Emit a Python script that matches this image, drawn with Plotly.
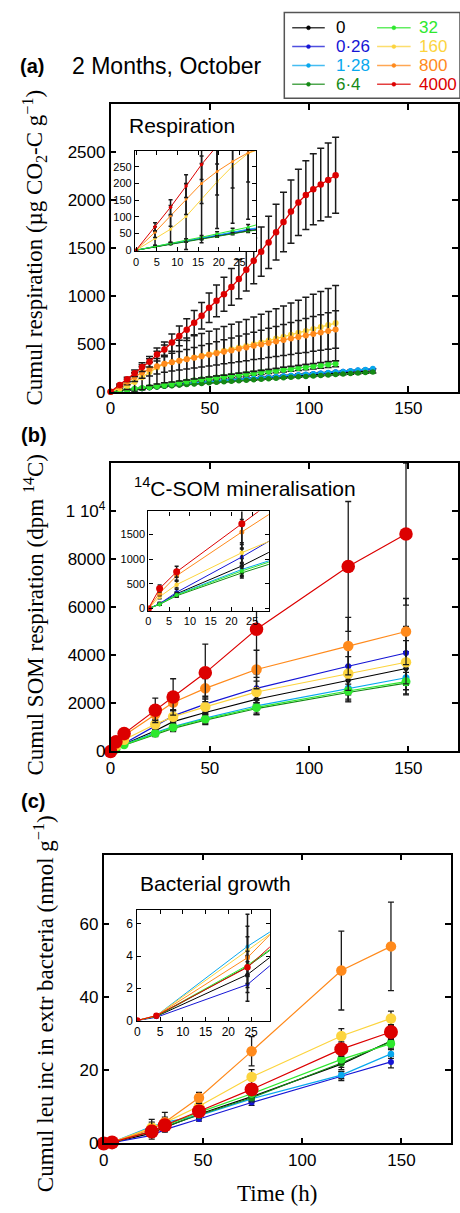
import plotly.graph_objects as go

W, H = 460, 1213

# ---------------- data ----------------
names = ["0", "0·26", "1·28", "6·4", "32", "160", "800", "4000"]
colors = ["#000000", "#1515d5", "#08a8ee", "#158a15", "#2ee82e", "#fcd43e", "#ff8a1c", "#dc0000"]

# (a) cumulative respiration
t_a = [0, 4.6, 8.35, 12.1, 15.85, 19.6, 23.35, 27.1, 30.85, 34.6, 38.35, 42.1, 45.85, 49.6,
       53.35, 57.1, 60.85, 64.6, 68.35, 72.1, 75.85, 79.6, 83.35, 87.1, 90.85, 94.6, 98.35,
       102.1, 105.85, 109.6, 113.35, 117.1, 120.85, 124.6, 128.35, 132.1]
resp_0 = [0, 11, 19, 27, 35, 43, 51, 59, 66, 73, 80, 87, 93, 99, 105, 111, 117, 123, 129, 134,
          140, 145, 151, 156, 162, 167, 172, 178, 183, 188, 193, 198, 203, 208, 213, 218]
resp_026 = [0, 11, 19, 27, 35, 44, 53, 61, 68, 76, 83, 90, 97, 103, 109, 115, 121, 127, 133, 139,
            145, 151, 157, 163, 169, 175, 181, 187, 193, 199, 205, 211, 217, 223, 229, 235]
resp_128 = [0, 12, 20, 28, 36, 45, 54, 63, 70, 78, 85, 92, 98, 104, 110, 116, 122, 128, 134, 140,
            146, 152, 158, 164, 170, 176, 182, 188, 194, 200, 206, 212, 219, 226, 233, 241]
resp_64 = [0, 10, 18, 26, 33, 41, 49, 57, 63, 69, 75, 81, 87, 93, 98, 104, 109, 115, 120, 125,
           130, 135, 140, 145, 150, 155, 160, 165, 170, 175, 180, 185, 190, 195, 200, 205]
resp_32 = [0, 12, 21, 30, 39, 49, 59, 69, 82, 95, 108, 121, 130, 139, 148, 157, 166, 175, 184,
           193, 202, 211, 220, 229, 238, 247, 256, 265, 274, 283, 292]
resp_160 = [0, 35, 63, 101, 152, 205, 252, 290, 307, 324, 341, 358, 375, 392, 409, 426, 443, 460,
            477, 494, 514, 534, 554, 574, 594, 614, 634, 655, 675, 696, 716]
resp_800 = [0, 54, 103, 153, 200, 236, 266, 292, 308, 323, 339, 354, 370, 385, 400, 416, 431, 447,
            462, 478, 493, 509, 524, 540, 555, 571, 586, 602, 617, 633, 648]
resp_4000 = [0, 70, 129, 192, 257, 313, 389, 441, 513, 582, 647, 720, 792, 875, 947, 1016, 1092,
             1174, 1271, 1364, 1460, 1556, 1663, 1770, 1877, 1973, 2049, 2111, 2159, 2207, 2256]
resp_err_0 = [0, 1, 2, 3, 4, 4, 5, 6, 7, 7, 8, 9, 9, 10, 11, 11, 12, 12, 13, 13, 14, 15, 15, 16,
              16, 17, 17, 18, 18, 19, 19, 20, 20, 21, 21, 22]
resp_err_32 = [0, 2, 3, 4, 5, 6, 7, 8, 9, 10, 11, 12, 13, 14, 15, 16, 17, 18, 19, 20, 21, 22, 23,
               24, 25, 26, 27, 28, 29, 30, 31]
resp_err_160 = [0, 20, 40, 99, 130, 140, 171, 197, 205, 212, 218, 225, 232, 239, 246, 253, 260,
                268, 276, 284, 293, 302, 311, 320, 330, 340, 350, 360, 370, 381, 392]
resp_err_800 = [0, 16, 31, 46, 60, 71, 80, 88, 92, 97, 102, 106, 111, 116, 120, 125, 129, 134,
                139, 143, 148, 153, 157, 162, 167, 171, 176, 181, 185, 190, 196]
resp_err_4000 = [0, 12, 22, 34, 45, 55, 68, 77, 90, 102, 113, 126, 139, 153, 166, 178, 191, 205,
                 222, 239, 256, 272, 291, 310, 329, 345, 359, 370, 378, 386, 396]

# (b) cumulative 14C-SOM respiration
t_b = [0, 2.7, 6.8, 22.5, 31.5, 47.7, 73.5, 119.7, 148.8]
som_0 = [0, 95, 300, 860, 1240, 1620, 2171, 2954, 3449]
som_026 = [0, 100, 330, 1042, 1480, 1965, 2625, 3544, 4095]
som_128 = [0, 90, 285, 790, 1030, 1389, 1895, 2625, 3065]
som_64 = [0, 85, 260, 720, 960, 1300, 1780, 2450, 2840]
som_32 = [0, 88, 275, 760, 1005, 1347, 1829, 2513, 2900]
som_160 = [0, 239, 484, 1128, 1442, 1854, 2473, 3243, 3708]
som_800 = [0, 312, 664, 1546, 2033, 2624, 3407, 4382, 4986]
som_4000 = [0, 405, 743, 1712, 2266, 3269, 5082, 7692, 9038]
som_err_0 = [0, 20, 40, 150, 200, 280, 400, 600, 700]
som_err_026 = [0, 30, 60, 180, 230, 330, 600, 900, 1100]
som_err_128 = [0, 20, 40, 120, 150, 200, 300, 450, 500]
som_err_64 = [0, 15, 30, 100, 130, 180, 250, 350, 450]
som_err_32 = [0, 20, 40, 110, 150, 200, 300, 450, 550]
som_err_160 = [0, 40, 70, 200, 250, 320, 450, 700, 900]
som_err_800 = [0, 50, 90, 250, 300, 400, 800, 1195, 1374]
som_err_4000 = [0, 70, 110, 508, 756, 1195, 2000, 2700, 2950]

# (c) cumulative leucine incorporation
t_c = [0, 4.2, 24.2, 30.8, 48, 74.5, 119.7, 144.7]
leu_0 = [0, 0.25, 2.85, 4.4, 8.0, 12.8, 21.7, 28.0]
leu_026 = [0, 0.2, 2.23, 3.8, 6.7, 11.2, 18.4, 22.3]
leu_128 = [0, 0.3, 4.6, 5.8, 7.6, 12.2, 18.7, 24.5]
leu_64 = [0, 0.25, 3.35, 4.6, 7.8, 12.5, 22.0, 27.9]
leu_32 = [0, 0.28, 3.43, 4.8, 8.5, 13.6, 23.0, 27.3]
leu_160 = [0, 0.3, 4.35, 5.7, 10.2, 18.2, 29.4, 34.2]
leu_800 = [0, 0.3, 3.9, 5.8, 12.5, 25.2, 47.3, 53.9]
leu_4000 = [0, 0.3, 3.3, 5.0, 8.8, 14.8, 25.8, 30.5]
leu_err_0 = [0, 0.05, 0.8, 0.8, 0.8, 1.0, 1.5, 1.5]
leu_err_026 = [0, 0.05, 0.5, 0.5, 0.6, 0.8, 1.2, 1.6]
leu_err_128 = [0, 0.05, 0.6, 0.6, 0.7, 0.8, 1.0, 1.2]
leu_err_64 = [0, 0.05, 0.6, 0.6, 0.7, 0.9, 1.2, 1.5]
leu_err_32 = [0, 0.05, 0.6, 0.6, 0.7, 0.9, 1.2, 1.4]
leu_err_160 = [0, 0.1, 1.5, 1.5, 1.0, 2.0, 2.0, 2.0]
leu_err_800 = [0, 0.1, 2.7, 2.7, 1.5, 4.0, 10.8, 12.1]
leu_err_4000 = [0, 0.1, 1.0, 1.0, 1.0, 1.5, 2.0, 2.0]

resp_series = [resp_0, resp_026, resp_128, resp_64, resp_32, resp_160, resp_800, resp_4000]
resp_errs = [resp_err_0, None, None, None, resp_err_32, resp_err_160, resp_err_800, resp_err_4000]
som_series = [som_0, som_026, som_128, som_64, som_32, som_160, som_800, som_4000]
som_errs = [som_err_0, som_err_026, som_err_128, som_err_64, som_err_32, som_err_160, som_err_800, som_err_4000]
leu_series = [leu_0, leu_026, leu_128, leu_64, leu_32, leu_160, leu_800, leu_4000]
leu_errs = [leu_err_0, leu_err_026, leu_err_128, leu_err_64, leu_err_32, leu_err_160, leu_err_800, leu_err_4000]

# ---------------- styling ----------------
SANS = "Liberation Sans, Arial, sans-serif"
SERIF = "Liberation Serif, Times New Roman, serif"
ERR_COL = "#1a1a1a"

size_a = [5.5, 5.5, 5.5, 5.5, 6, 6, 6, 6.5]
size_b = [5, 6, 7, 6, 9, 10.5, 10.5, 13.5]
size_c = [5, 6, 6.5, 7, 8.5, 10.5, 10.5, 14]
size_inset_a = [3, 3, 3, 3, 3, 3, 3, 3.5]
size_inset_b = [4, 4, 4, 4, 4, 4.5, 5, 7]
size_inset_c = [4, 4, 4, 4, 4, 4.5, 5, 6.5]


def px(x):
    return x / W


def py(y):
    return 1 - y / H


fig = go.Figure()


def add_series(tvals, series, errs, sizes, xa, ya, clip, lw=1.3, ethick=1.3, ewidth=3):
    for i in range(len(series)):
        vals = series[i]
        tt = tvals[:len(vals)]
        err = errs[i]
        ed = dict(type="data", array=err, color=ERR_COL, thickness=ethick, width=ewidth,
                  visible=True) if err is not None else dict(visible=False)
        fig.add_trace(go.Scatter(
            x=tt, y=vals, mode="lines+markers", name=names[i],
            line=dict(color=colors[i], width=lw),
            marker=dict(color=colors[i], size=sizes[i], line=dict(width=0)),
            error_y=ed, xaxis=xa, yaxis=ya, cliponaxis=clip, showlegend=False,
        ))


# panel a
add_series(t_a, resp_series, resp_errs, size_a, "x", "y", False, lw=1.3, ethick=1.5, ewidth=3.5)
add_series(t_a, resp_series, resp_errs, size_inset_a, "x2", "y2", True, lw=1.0, ethick=1.5, ewidth=2)
# panel b
add_series(t_b, som_series, som_errs, size_b, "x3", "y3", False, lw=1.2, ethick=1.3, ewidth=3)
add_series(t_b, som_series, som_errs, size_inset_b, "x4", "y4", True, lw=1.0, ethick=1.5, ewidth=2)
# panel c
add_series(t_c, leu_series, leu_errs, size_c, "x5", "y5", False, lw=1.2, ethick=1.3, ewidth=3)
add_series(t_c, leu_series, leu_errs, size_inset_c, "x6", "y6", True, lw=1.0, ethick=1.5, ewidth=2)


def main_ax(dom, rng, tickvals, anchor, ticktext=None):
    d = dict(domain=dom, range=rng, showline=True, linecolor="black", linewidth=1.5,
             mirror="ticks", ticks="inside", ticklen=6, tickwidth=1.5, tickcolor="black",
             tickvals=tickvals, showgrid=False, zeroline=False, anchor=anchor,
             tickfont=dict(family=SANS, size=17, color="black"))
    if ticktext is not None:
        d["ticktext"] = ticktext
    return d


def inset_ax(dom, rng, tickvals, anchor, fsize):
    return dict(domain=dom, range=rng, showline=True, linecolor="black", linewidth=1.2,
                mirror="ticks", ticks="inside", ticklen=4, tickwidth=1, tickcolor="black",
                tickvals=tickvals, showgrid=False, zeroline=False, anchor=anchor,
                tickfont=dict(family=SANS, size=fsize, color="black"))


xt_main = [0, 50, 100, 150]
xt_in = [0, 5, 10, 15, 20, 25]

fig.update_layout(
    xaxis=main_ax([px(107), px(459)], [0, 175], xt_main, "y"),
    yaxis=main_ax([py(395), py(104.7)], [0, 3000], [0, 500, 1000, 1500, 2000, 2500], "x"),
    xaxis2=inset_ax([px(131.7), px(254.3)], [-0.25, 29], xt_in, "y2", 11),
    yaxis2=inset_ax([py(253.3), py(152.3)], [-3, 297], [0, 50, 100, 150, 200, 250], "x2", 11),
    xaxis3=main_ax([px(107), px(459)], [0, 175], xt_main, "y3"),
    yaxis3=main_ax([py(757.7), py(466.7)], [0, 12000], [0, 2000, 4000, 6000, 8000, 10000], "x3",
                   ["0", "2000", "4000", "6000", "8000", "1 10<sup>4</sup>"]),
    xaxis4=inset_ax([px(145.3), px(267.3)], [0, 29], xt_in, "y4", 11),
    yaxis4=inset_ax([py(616), py(515.7)], [-46, 1960], [0, 500, 1000, 1500], "x4", 11),
    xaxis5=main_ax([px(100), px(452)], [0, 175], xt_main, "y5"),
    yaxis5=main_ax([py(1153), py(861.7)], [0, 79], [0, 20, 40, 60], "x5"),
    xaxis6=inset_ax([px(133.3), px(268.3)], [-0.15, 29.1], xt_in, "y6", 12),
    yaxis6=inset_ax([py(1029.3), py(917.7)], [-0.02, 6.85], [0, 2, 4, 6], "x6", 12),
)

ann = []


def text(x, y, s, size, family=SANS, color="black", xanchor="left", angle=0, bold=False):
    if bold:
        s = "<b>" + s + "</b>"
    ann.append(dict(x=px(x), y=py(y), xref="paper", yref="paper", text=s, showarrow=False,
                    xanchor=xanchor, yanchor="middle", textangle=angle,
                    font=dict(family=family, size=size, color=color)))


text(13, 67, "(a)", 20, bold=True)
text(66, 67, "2 Months, October", 23)
text(14, 439, "(b)", 20, bold=True)
text(14, 808, "(c)", 20, bold=True)

text(124, 127, "Respiration", 21)
text(129, 491, "<sup>14</sup>C-SOM mineralisation", 21)
text(135, 891, "Bacterial growth", 21)

text(30, 250, "Cumul respiration (µg CO<sub>2</sub>-C g<sup>−1</sup>)", 23, family=SERIF,
     xanchor="center", angle=-90)
text(30, 620, "Cumul SOM respiration (dpm <sup>14</sup>C)", 23, family=SERIF,
     xanchor="center", angle=-90)
text(40, 1012, "Cumul leu inc in extr bacteria (nmol g<sup>−1</sup>)", 23, family=SERIF,
     xanchor="center", angle=-90)
text(276, 1203, "Time (h)", 23, family=SERIF, xanchor="center")

# legend (drawn as layout decoration)
shapes = [dict(type="rect", xref="paper", yref="paper", x0=px(283), x1=px(461), y0=py(99),
               y1=py(12.7), line=dict(color="#555555", width=1.5), fillcolor="rgba(0,0,0,0)")]
rows_y = [28, 47, 66, 85]
for i, nm in enumerate(names):
    col = i // 4
    row = i % 4
    yv = rows_y[row]
    x0, x1, xt = (291, 324, 333) if col == 0 else (377, 411, 417)
    shapes.append(dict(type="line", xref="paper", yref="paper", x0=px(x0), x1=px(x1),
                       y0=py(yv), y1=py(yv), line=dict(color=colors[i], width=1.5), opacity=0.75))
    cx = (x0 + x1) / 2
    shapes.append(dict(type="circle", xref="paper", yref="paper", x0=px(cx - 2), x1=px(cx + 2),
                       y0=py(yv + 2), y1=py(yv - 2), fillcolor=colors[i],
                       line=dict(color=colors[i], width=0.5)))
    text(xt, yv, nm, 17, color=colors[i])

fig.update_layout(
    width=W, height=H, margin=dict(l=0, r=0, t=0, b=0),
    paper_bgcolor="white", plot_bgcolor="white", showlegend=False,
    annotations=ann, shapes=shapes,
)

fig.write_html("out.html", config={"displayModeBar": False},
               post_script="document.body.style.margin='0';document.body.style.overflow='hidden';")
